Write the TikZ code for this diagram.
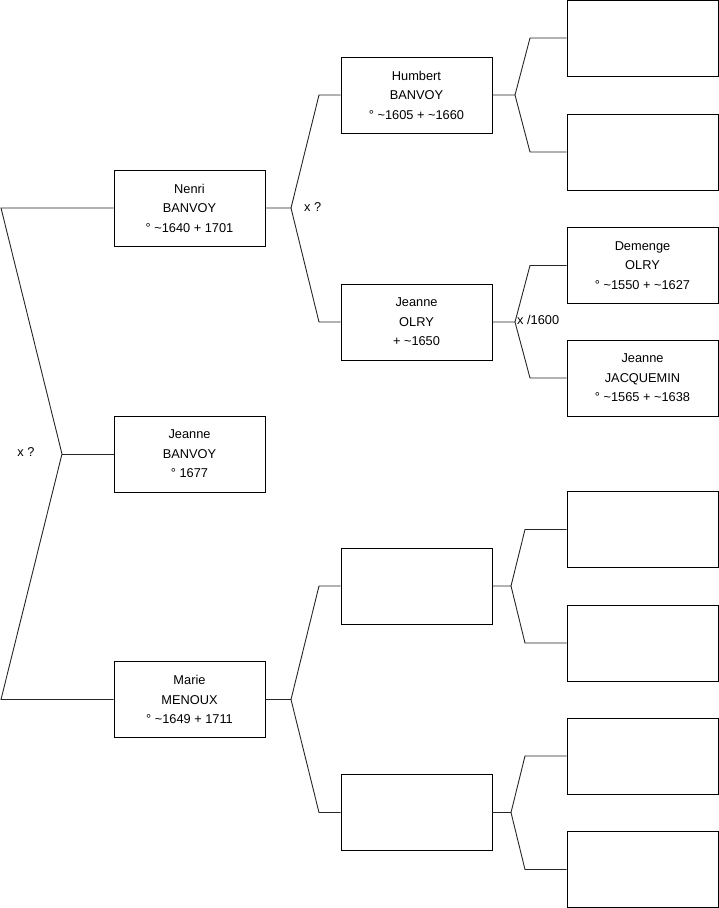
\documentclass[tikz,border=0pt]{standalone}
\usepackage{fontspec}
\setmainfont{Liberation Sans}
\begin{document}
\begin{tikzpicture}[x=1pt,y=1pt,
  person/.style={draw=black, line width=0.9pt, minimum width=151pt, minimum height=76pt, inner sep=0pt, align=center, font=\fontsize{12.8}{19.5}\selectfont},
  link/.style={draw=black!85, line width=0.9pt},
  lbl/.style={inner sep=0pt, font=\fontsize{12.8}{14}\selectfont}]
\useasboundingbox (0,0) rectangle (719,-908);
% generation 1
\node[person] (nenri) at (189.5,-208) {Nenri\\BANVOY\\° \textasciitilde1640 + 1701};
\node[person] (jeanneb) at (189.5,-454) {Jeanne\\BANVOY\\° 1677};
\node[person] (marie) at (189.5,-699.5) {Marie\\MENOUX\\° \textasciitilde1649 + 1711};
% generation 2
\node[person] (humbert) at (416.5,-95) {Humbert\\BANVOY\\° \textasciitilde1605 + \textasciitilde1660};
\node[person] (jeanneo) at (416.5,-322) {Jeanne\\OLRY\\+ \textasciitilde1650};
\node[person] (g2c) at (416.5,-586) {};
\node[person] (g2d) at (416.5,-812.5) {};
% generation 3
\node[person] (g3a) at (642.5,-38) {};
\node[person] (g3b) at (642.5,-152) {};
\node[person] (demenge) at (642.5,-265.5) {Demenge\\OLRY\\° \textasciitilde1550 + \textasciitilde1627};
\node[person] (jeannej) at (642.5,-378) {Jeanne\\JACQUEMIN\\° \textasciitilde1565 + \textasciitilde1638};
\node[person] (g3e) at (642.5,-529.5) {};
\node[person] (g3f) at (642.5,-643) {};
\node[person] (g3g) at (642.5,-756) {};
\node[person] (g3h) at (642.5,-869.5) {};
% root bracket
\coordinate (rA) at (1,-208);
\coordinate (rM) at (62,-454);
\coordinate (rB) at (1,-699.5);
\draw[link] (nenri.west) -- (rA) -- (rM) -- (rB) -- (marie.west);
\draw[link] (rM) -- (jeanneb.west);
\node[lbl] (xroot) at (26,-452) {x ?};
% Nenri bracket
\coordinate (fN) at (291,-208);
\coordinate (fNa) at (319,-95);
\coordinate (fNb) at (319,-322);
\draw[link] (nenri.east) -- (fN) -- (fNa) -- (humbert.west);
\draw[link] (fN) -- (fNb) -- (jeanneo.west);
\node[lbl, anchor=west] (xn) at (304,-207) {x ?};
% Marie bracket
\coordinate (fM) at (291,-699.5);
\coordinate (fMa) at (319,-586);
\coordinate (fMb) at (319,-812.5);
\draw[link] (marie.east) -- (fM) -- (fMa) -- (g2c.west);
\draw[link] (fM) -- (fMb) -- (g2d.west);
% Humbert bracket
\coordinate (fH) at (515,-95);
\coordinate (fHa) at (530,-38);
\coordinate (fHb) at (530,-152);
\draw[link] (humbert.east) -- (fH) -- (fHa) -- (g3a.west);
\draw[link] (fH) -- (fHb) -- (g3b.west);
% Jeanne OLRY bracket
\coordinate (fJ) at (515,-322);
\coordinate (fJa) at (530,-265.5);
\coordinate (fJb) at (530,-378);
\draw[link] (jeanneo.east) -- (fJ) -- (fJa) -- (demenge.west);
\draw[link] (fJ) -- (fJb) -- (jeannej.west);
\node[lbl, anchor=west] (xj) at (517,-320) {x /1600};
% lower gen2 brackets
\coordinate (fC) at (511,-586);
\coordinate (fCa) at (525,-529.5);
\coordinate (fCb) at (525,-643);
\draw[link] (g2c.east) -- (fC) -- (fCa) -- (g3e.west);
\draw[link] (fC) -- (fCb) -- (g3f.west);
\coordinate (fD) at (511,-812.5);
\coordinate (fDa) at (525,-756);
\coordinate (fDb) at (525,-869.5);
\draw[link] (g2d.east) -- (fD) -- (fDa) -- (g3g.west);
\draw[link] (fD) -- (fDb) -- (g3h.west);
\end{tikzpicture}
\end{document}
